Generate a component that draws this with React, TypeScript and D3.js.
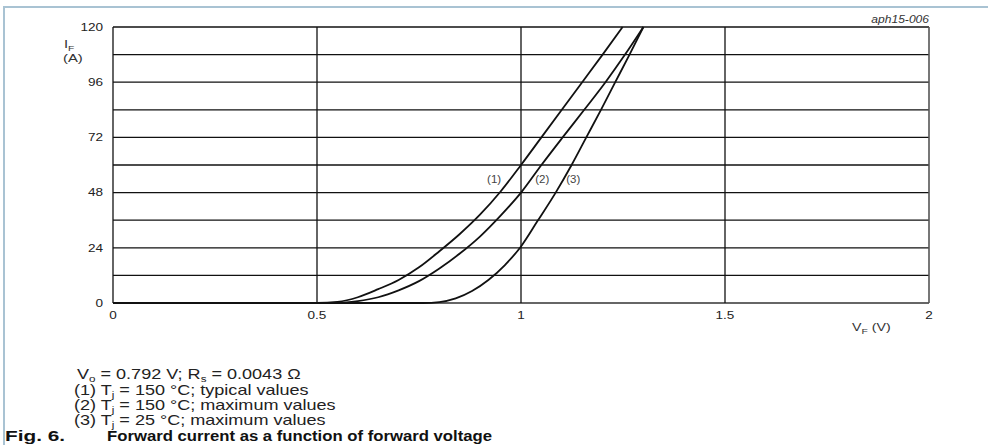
import React from "react";
import * as d3 from "d3";

// forward voltage (V) ticks and forward current (A) ticks
const vTicks = [0, 0.5, 1, 1.5, 2];
const vTickLabels = ["0", "0.5", "1", "1.5", "2"];
const iTicks = [0, 24, 48, 72, 96, 120];
const iGrid = [0, 12, 24, 36, 48, 60, 72, 84, 96, 108, 120];

// (1) Tj = 150 °C typical
const curve1: [number, number][] = [
  [0, 0], [0.5, 0], [0.55, 0.5], [0.6, 2.5], [0.65, 6], [0.7, 10], [0.75, 15.5],
  [0.8, 22.5], [0.85, 30], [0.9, 38.5], [0.95, 48.5], [1.0, 60], [1.05, 72],
  [1.1, 84], [1.15, 96], [1.2, 108], [1.249, 120],
];
// (2) Tj = 150 °C maximum
const curve2: [number, number][] = [
  [0, 0], [0.55, 0], [0.6, 0.8], [0.65, 2.5], [0.7, 5.5], [0.75, 9.5], [0.8, 15],
  [0.85, 21.5], [0.9, 29], [0.95, 38], [1.0, 48], [1.05, 60], [1.102, 72],
  [1.155, 84], [1.207, 96], [1.255, 108], [1.3, 120],
];
// (3) Tj = 25 °C maximum
const curve3: [number, number][] = [
  [0, 0], [0.76, 0], [0.8, 0.4], [0.84, 2], [0.88, 5.2], [0.92, 10], [0.96, 16.4],
  [1.0, 24.6], [1.04, 35.5], [1.085, 48], [1.124, 60], [1.16, 72], [1.196, 84],
  [1.231, 96], [1.266, 108], [1.3, 120],
];
const curves = [curve1, curve2, curve3];
const curveLabels = [
  { text: "(1)", v: 0.934, i: 52 },
  { text: "(2)", v: 1.052, i: 52 },
  { text: "(3)", v: 1.128, i: 52 },
];

const notes = [
  "(1) T|j| = 150 °C; typical values",
  "(2) T|j| = 150 °C; maximum values",
  "(3) T|j| = 25 °C; maximum values",
];

const W = 988;
const H = 445;
const SX = 1.29; // the figure is stretched sideways
const font = "'Liberation Sans', Arial, sans-serif";

export default function App() {
  const x = d3.scaleLinear().domain([0, 2]).range([113, 929]);
  const y = d3.scaleLinear().domain([0, 120]).range([303, 27]);

  const line = d3
    .line<[number, number]>()
    .x((d) => x(d[0]))
    .y((d) => y(d[1]))
    .curve(d3.curveMonotoneX);

  // renders "T|j| = ..." with subscript
  const sub = (s: string) => {
    const parts = s.split("|");
    return parts.map((p, k) =>
      k % 2 === 1 ? (
        <tspan key={k} fontSize={9} dy={3}>{p}</tspan>
      ) : (
        <tspan key={k} dy={k === 0 ? 0 : -3}>{p}</tspan>
      )
    );
  };

  const at = (px: number, py: number, s = SX) => `translate(${px},${py}) scale(${s},1)`;

  return (
    <svg
      width={W}
      height={H}
      style={{ position: "absolute", left: 0, top: 0, background: "#fff" }}
      fontFamily={font}
    >
      {/* page frame */}
      <path d={`M4,${H} V7 H${W}`} fill="none" stroke="#a9c3d3" strokeWidth={2} />

      {/* horizontal grid */}
      {iGrid.map((v) => (
        <line
          key={"h" + v}
          x1={x(0)}
          x2={x(2)}
          y1={y(v)}
          y2={y(v)}
          stroke={v === 0 ? "#666" : "#111"}
          strokeWidth={v === 0 ? 2 : 1.3}
        />
      ))}
      {/* vertical grid */}
      {vTicks.map((v) => (
        <line
          key={"v" + v}
          x1={x(v)}
          x2={x(v)}
          y1={y(0)}
          y2={y(120)}
          stroke={v === 2 ? "#555" : "#111"}
          strokeWidth={v === 2 ? 1.6 : 1.3}
        />
      ))}

      {/* curves */}
      {curves.map((c, k) => (
        <path key={k} d={line(c) ?? ""} fill="none" stroke="#111" strokeWidth={1.8} />
      ))}
      {curveLabels.map((l) => (
        <text
          key={l.text}
          transform={at(x(l.v), y(l.i), 1.15)}
          fontSize={10}
          fill="#444"
          textAnchor="middle"
        >
          {l.text}
        </text>
      ))}

      {/* y ticks */}
      {iTicks.map((v) => (
        <text
          key={"yt" + v}
          transform={at(103, y(v))}
          dy="0.36em"
          fontSize={10.5}
          fill="#222"
          textAnchor="end"
        >
          {v}
        </text>
      ))}
      {/* x ticks */}
      {vTicks.map((v, k) => (
        <text
          key={"xt" + v}
          transform={at(x(v), 319)}
          fontSize={10.5}
          fill="#222"
          textAnchor="middle"
        >
          {vTickLabels[k]}
        </text>
      ))}

      {/* axis titles */}
      <text transform={at(64, 48)} fontSize={11.5} fill="#333">
        I<tspan fontSize={8} dy={3}>F</tspan>
      </text>
      <text transform={at(63, 62)} fontSize={11.5} fill="#333">(A)</text>
      <text transform={at(852, 331)} fontSize={11} fill="#333">
        V<tspan fontSize={8} dy={3}>F</tspan>
        <tspan dy={-3}> (V)</tspan>
      </text>
      <text transform={at(929, 23, 1.15)} fontSize={10.5} fontStyle="italic" fill="#333" textAnchor="end">
        aph15-006
      </text>

      {/* notes */}
      <text transform={at(77, 379)} fontSize={14} fill="#222">
        V<tspan fontSize={9} dy={3}>o</tspan>
        <tspan dy={-3}> = 0.792 V; R</tspan>
        <tspan fontSize={9} dy={3}>s</tspan>
        <tspan dy={-3}> = 0.0043 Ω</tspan>
      </text>
      {notes.map((n, k) => (
        <text key={n} transform={at(74, 395 + k * 15)} fontSize={14} fill="#222">
          {sub(n)}
        </text>
      ))}
      <text x={5} y={441} fontSize={14} fontWeight="bold" fill="#111" textLength={60} lengthAdjust="spacingAndGlyphs">
        Fig. 6.
      </text>
      <text x={107} y={441} fontSize={14} fontWeight="bold" fill="#111" textLength={385} lengthAdjust="spacingAndGlyphs">
        Forward current as a function of forward voltage
      </text>
    </svg>
  );
}
